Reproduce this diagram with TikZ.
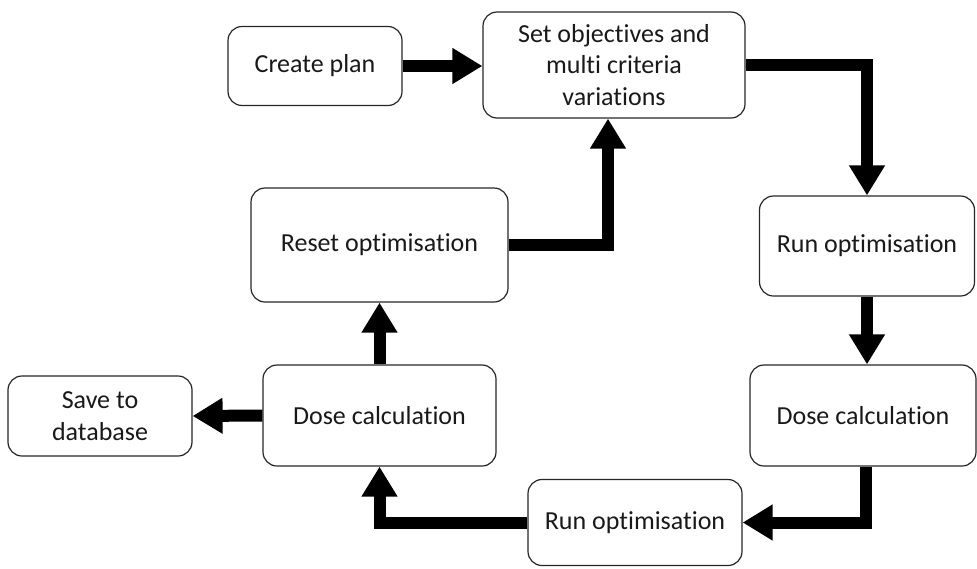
\documentclass[tikz,border=0pt]{standalone}
\usepackage{fontspec}
\setmainfont{Carlito}[RawFeature={-liga;-clig;-dlig;-calt}]
\usetikzlibrary{arrows.meta}
\begin{document}
\begin{tikzpicture}[x=1pt,y=-1pt,
  box/.style={draw=black!85, line width=1.2pt, rounded corners=14pt, inner sep=0pt,
    align=center, font=\fontsize{26}{31.5}\selectfont, text=black!90},
  flow/.style={line width=12pt, line join=miter, draw=black,
    -{Triangle[width=34pt,length=30pt]}}]
\useasboundingbox (0,0) rectangle (977,568);
\node[box, minimum width=174pt, minimum height=79pt] (cp) at (315,66) {Create plan};
\node[box, minimum width=262pt, minimum height=106pt] (so) at (614,65) {Set objectives and\\multi criteria\\variations};
\node[box, minimum width=215pt, minimum height=100pt] (ro1) at (867,246) {Run optimisation};
\node[box, minimum width=226pt, minimum height=101pt] (dc1) at (863,415.5) {Dose calculation};
\node[box, minimum width=214pt, minimum height=86pt] (ro2) at (635,522.5) {Run optimisation};
\node[box, minimum width=233pt, minimum height=101pt] (dc2) at (379.5,415.5) {Dose calculation};
\node[box, minimum width=184pt, minimum height=80pt] (sv) at (100,416) {Save to\\database};
\node[box, minimum width=257pt, minimum height=114pt] (rs) at (379.5,245) {Reset optimisation};
\draw[flow] (cp.east) -- (cp.east -| so.west);
\draw[flow] (so.east) -| (ro1.north);
\draw[flow] (ro1.south) -- (ro1.south |- dc1.north);
\coordinate (d1s) at ([xshift=3pt]dc1.south);
\draw[flow] (d1s) |- (ro2.east);
\draw[flow] (ro2.west) -| (dc2.south);
\draw[flow] (dc2.west) -- (sv.east);
\draw[flow] (dc2.north) -- (rs.south);
\coordinate (sob) at ([xshift=-6pt]so.south);
\draw[flow] (rs.east) -| (sob);
\end{tikzpicture}
\end{document}
